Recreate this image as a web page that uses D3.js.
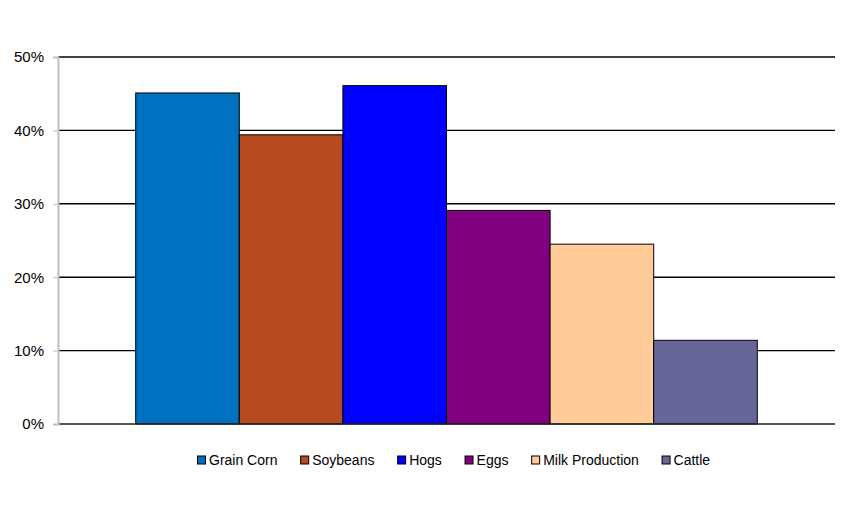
<!DOCTYPE html>
<html>
<head>
<meta charset="utf-8">
<script src="https://cdn.jsdelivr.net/npm/d3@7"></script>
<style>
  body { margin: 0; background: #fff; }
  text { font-family: "Liberation Sans", Arial, sans-serif; fill: #000; }
</style>
</head>
<body>
<div id="chart"></div>
<script>
// Chart data (share, %)
const categories = ["Grain Corn", "Soybeans", "Hogs", "Eggs", "Milk Production", "Cattle"];
const values = [45.1, 39.4, 46.1, 29.1, 24.5, 11.4];
const colors = ["#0070c0", "#b54b1e", "#0000ff", "#800080", "#ffcc99", "#666699"];
const yTicks = [0, 10, 20, 30, 40, 50];

const W = 845, H = 512;
const margin = {top: 57, right: 10, bottom: 88, left: 58};
const plotW = 835 - margin.left;
const plotH = 424 - margin.top;

const svg = d3.select("#chart").append("svg")
    .attr("width", W).attr("height", H);

const g = svg.append("g")
    .attr("transform", `translate(${margin.left},${margin.top})`);

const y = d3.scaleLinear().domain([0, 50]).range([plotH, 0]);

// single category cluster, Excel style gap of 150%
const x = d3.scaleBand().domain(categories).range([0, plotW])
    .paddingInner(0).paddingOuter(0.75);

// gridlines
g.append("g").selectAll("line")
    .data(yTicks.filter(d => d > 0))
    .enter().append("line")
    .attr("x1", 0).attr("x2", plotW)
    .attr("y1", d => y(d)).attr("y2", d => y(d))
    .attr("stroke", "#000").attr("stroke-width", 1.4);

// bars
g.append("g").selectAll("rect")
    .data(categories)
    .enter().append("rect")
    .attr("x", d => x(d))
    .attr("y", (d, i) => y(values[i]))
    .attr("width", x.bandwidth())
    .attr("height", (d, i) => y(0) - y(values[i]))
    .attr("fill", (d, i) => colors[i])
    .attr("stroke", "#000").attr("stroke-width", 1);

// baseline
g.append("line")
    .attr("x1", 0).attr("x2", plotW)
    .attr("y1", y(0)).attr("y2", y(0))
    .attr("stroke", "#222").attr("stroke-width", 1.5);

// y axis
const yAxis = g.append("g")
    .call(d3.axisLeft(y).tickValues(yTicks).tickFormat(d => d + "%").tickSize(5).tickPadding(9));
yAxis.select(".domain").attr("stroke", "#bfbfbf").attr("stroke-width", 2);
yAxis.selectAll(".tick line").attr("stroke", "#bfbfbf");
yAxis.selectAll(".tick text")
    .style("font-size", "15px")
    .style("font-family", "'Liberation Sans', Arial, sans-serif")
    .attr("fill", "#000");

// legend
const legend = svg.append("g").attr("transform", "translate(197,0)");
let lx = 0;
categories.forEach((c, i) => {
    const item = legend.append("g").attr("transform", `translate(${lx},0)`);
    item.append("rect")
        .attr("x", 0.5).attr("y", 456)
        .attr("width", 8).attr("height", 8)
        .attr("fill", colors[i])
        .attr("stroke", "#000").attr("stroke-width", 1);
    const t = item.append("text")
        .attr("x", 12).attr("y", 465)
        .style("font-size", "14px")
        .text(c);
    lx += 12 + t.node().getComputedTextLength() + 22.7;
});
</script>
</body>
</html>
